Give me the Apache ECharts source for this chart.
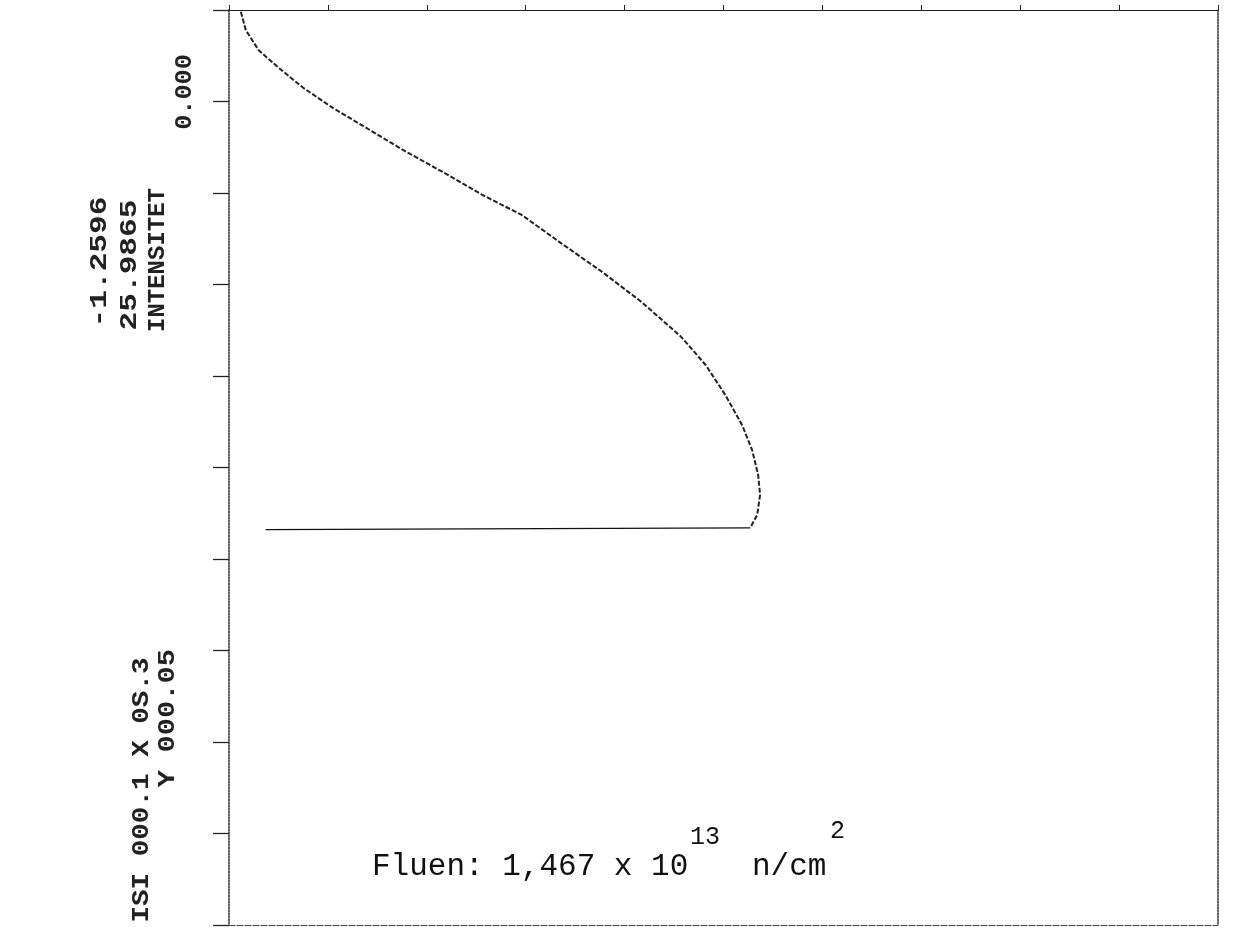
<!DOCTYPE html>
<html>
<head>
<meta charset="utf-8">
<script src="https://cdn.jsdelivr.net/npm/echarts@6/dist/echarts.min.js"></script>
<style>
  html, body { margin: 0; padding: 0; background: #fff; }
  #plot { width: 1255px; height: 945px; }
</style>
</head>
<body>
<div id="plot"></div>
<script>
// profile: x along the top axis, y downward (depth)
var curveX = [0.12, 0.17, 0.30, 0.50, 0.75, 1.05, 1.36, 1.76, 2.16, 2.56, 2.96, 3.36, 3.77, 4.17, 4.57, 4.82, 5.02, 5.19, 5.29, 5.35, 5.37, 5.34, 5.27];
var curveY = [0.02, 0.22, 0.44, 0.63, 0.85, 1.07, 1.27, 1.53, 1.77, 2.02, 2.24, 2.55, 2.86, 3.19, 3.57, 3.88, 4.21, 4.54, 4.81, 5.08, 5.30, 5.52, 5.66];
// closing line at the bottom of the profile
var baseX = [5.27, 0.37];
var baseY = [5.66, 5.68];
var axisMin = 0, axisMax = 10, axisStep = 1;

var sideTexts = [
    // [text, x, y, stretch]  rotated labels on the left margin
    ['0.000', 185, 92, 1.05],
    ['-1.2596', 100, 262, 1.3],
    ['25.9865', 130, 265, 1.3],
    ['INTENSITET', 158, 260, 1.0],
    ['ISI 000.1 X 0S.3', 142, 790, 1.15],
    ['Y 000.05', 168, 718, 1.2]
];

var chart = echarts.init(document.getElementById('plot'));

var mono = '"Liberation Mono", "DejaVu Sans Mono", monospace';

var graphics = sideTexts.map(function (t) {
    return {
        type: 'text',
        x: t[1], y: t[2],
        rotation: Math.PI / 2,
        scaleX: t[3],
        style: {
            text: t[0],
            font: 'bold 24px ' + mono,
            fill: '#222',
            align: 'center',
            verticalAlign: 'middle'
        }
    };
});

// annotation, placed piece by piece like the plotter did
var notePieces = [
    // [text, x, y, size, valign]
    ['Fluen: 1,467 x 10', 372, 882, 31, 'bottom'],
    ['13', 690, 825, 25, 'top'],
    ['n/cm', 752, 882, 31, 'bottom'],
    ['2', 830, 819, 25, 'top']
];
notePieces.forEach(function (p) {
    graphics.push({
        type: 'text',
        x: p[1], y: p[2],
        style: {
            text: p[0],
            font: p[3] + 'px ' + mono,
            fill: '#111',
            align: 'left',
            verticalAlign: p[4]
        }
    });
});

var option = {
    backgroundColor: '#fff',
    animation: false,
    grid: { left: 229, right: 37, top: 10, bottom: 20 },
    xAxis: [{
        type: 'value', position: 'top',
        min: axisMin, max: axisMax, interval: axisStep,
        axisLine: { show: true, lineStyle: { color: '#222', width: 1.2 } },
        axisTick: { show: true, length: 5, lineStyle: { color: '#222' } },
        axisLabel: { show: false },
        splitLine: { show: false }
    }, {
        type: 'value', position: 'bottom',
        min: axisMin, max: axisMax,
        axisLine: { show: true, onZero: false, lineStyle: { color: '#444', width: 1, type: [6, 2] } },
        axisTick: { show: false },
        axisLabel: { show: false },
        splitLine: { show: false }
    }],
    yAxis: [{
        type: 'value', inverse: true, position: 'left',
        min: axisMin, max: axisMax, interval: axisStep,
        axisLine: { show: true, onZero: false, lineStyle: { color: '#333', width: 1.5, type: [2, 1] } },
        axisTick: { show: true, length: 16, lineStyle: { color: '#222', width: 1.3 } },
        axisLabel: { show: false },
        splitLine: { show: false }
    }, {
        type: 'value', inverse: true, position: 'right',
        min: axisMin, max: axisMax,
        axisLine: { show: true, onZero: false, lineStyle: { color: '#333', width: 1.5, type: [2, 1] } },
        axisTick: { show: false },
        axisLabel: { show: false },
        splitLine: { show: false }
    }],
    graphic: graphics,
    series: [{
        type: 'line',
        xAxisIndex: 0, yAxisIndex: 0,
        data: curveX.map(function (x, i) { return [x, curveY[i]]; }),
        showSymbol: false,
        lineStyle: { color: '#222', width: 2, type: [5, 2] }
    }, {
        type: 'line',
        xAxisIndex: 0, yAxisIndex: 0,
        data: baseX.map(function (x, i) { return [x, baseY[i]]; }),
        showSymbol: false,
        lineStyle: { color: '#111', width: 1.3 }
    }]
};
chart.setOption(option);
</script>
</body>
</html>
